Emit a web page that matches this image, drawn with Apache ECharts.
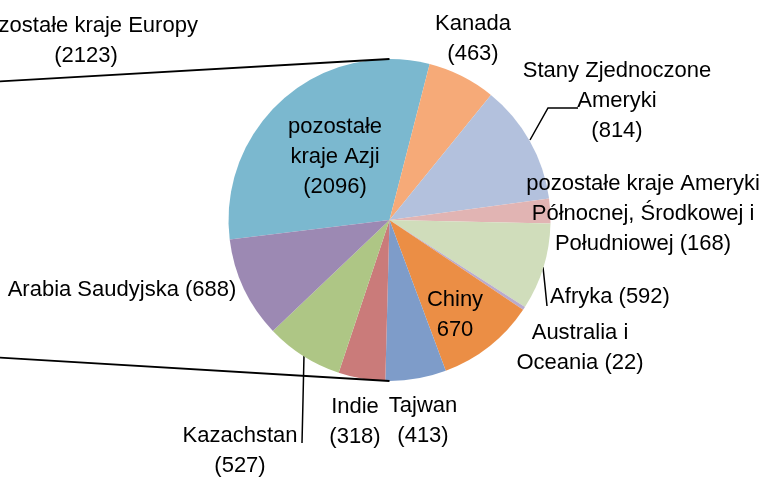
<!DOCTYPE html>
<html>
<head>
<meta charset="utf-8">
<script src="https://cdn.jsdelivr.net/npm/echarts@6.0.0/dist/echarts.min.js"></script>
<style>
  html, body { margin: 0; padding: 0; background: #fff; }
  #chart { width: 761px; height: 477px; }
</style>
</head>
<body>
<div id="chart"></div>
<script>
// secondary pie (breakdown of non-European countries)
const categories = [
  'pozostałe\nkraje Azji',
  'Kanada',
  'Stany Zjednoczone\nAmeryki',
  'pozostałe kraje Ameryki\nPółnocnej, Środkowej i\nPołudniowej',
  'Afryka',
  'Australia i\nOceania',
  'Chiny',
  'Tajwan',
  'Indie',
  'Kazachstan',
  'Arabia Saudyjska'
];
const values = [2096, 463, 814, 168, 592, 22, 670, 413, 318, 527, 688];

// slice of the primary pie that is cut off on the left
const europeName = 'pozostałe kraje Europy';
const europeValue = 2123;

const colors = [
  '#7bb8cf', '#f6aa78', '#b3c1dd', '#e1b4b3', '#d0ddbb', '#b9abcd',
  '#eb8e45', '#7e9cc9', '#ca7b7a', '#aec685', '#9c89b3'
];

// label layout: separator between name and value, inside or not
const labelSep = ['\n', '\n', '\n', ' ', ' ', ' ', '\n', '\n', '\n', '\n', ' '];
const labelInside = [true, false, false, false, false, false, true, false, false, false, false];
const labelPos = [
  [335, 157], [473, 39], [617, 101], [643, 214], [610, 297], [580, 348],
  [455, 315], [423, 421], [355, 422], [240, 451], [122, 290]
];
const leaderLines = {
  2: [[530, 140], [548, 108], [578, 108]],
  4: [[543, 267], [545, 286], [547, 306]],
  9: [[304, 355], [303, 400], [302, 443]]
};

const cx = 389.5;
const cy = 220;
const radius = 161;
const fontFamily = '"Liberation Sans", Arial, sans-serif';
const fontSize = 22;

const chart = echarts.init(document.getElementById('chart'));

const pieData = categories.map((name, i) => ({
  name: name,
  value: values[i],
  itemStyle: { color: colors[i] },
  label: {
    position: labelInside[i] ? 'inside' : 'outside',
    formatter: i === 6 ? '{b}' + labelSep[i] + '{c}' : '{b}' + labelSep[i] + '({c})'
  },
  labelLine: { show: !!leaderLines[i] }
}));

chart.setOption({
  backgroundColor: '#fff',
  animation: false,
  series: [
    {
      type: 'pie',
      center: [cx, cy],
      radius: radius,
      startAngle: 187,
      clockwise: true,
      avoidLabelOverlap: false,
      itemStyle: { borderWidth: 0 },
      label: {
        color: '#000',
        fontFamily: fontFamily,
        fontSize: fontSize,
        lineHeight: 30,
        align: 'center'
      },
      labelLine: {
        lineStyle: { color: '#000', width: 1.5 }
      },
      labelLayout: function (params) {
        const p = labelPos[params.dataIndex];
        const out = { x: p[0], y: p[1], align: 'center', verticalAlign: 'middle' };
        if (leaderLines[params.dataIndex]) {
          out.labelLinePoints = leaderLines[params.dataIndex];
        }
        return out;
      },
      data: pieData
    }
  ],
  graphic: [
    {
      type: 'line',
      shape: { x1: -10, y1: 82, x2: cx, y2: cy - radius },
      style: { stroke: '#000', lineWidth: 1.8 },
      z: 10
    },
    {
      type: 'line',
      shape: { x1: -10, y1: 357, x2: cx, y2: cy + radius },
      style: { stroke: '#000', lineWidth: 1.8 },
      z: 10
    },
    {
      type: 'text',
      x: 86,
      y: 41,
      style: {
        text: europeName + '\n(' + europeValue + ')',
        fill: '#000',
        font: fontSize + 'px ' + fontFamily,
        lineHeight: 30,
        align: 'center',
        verticalAlign: 'middle'
      }
    }
  ]
});
</script>
</body>
</html>
